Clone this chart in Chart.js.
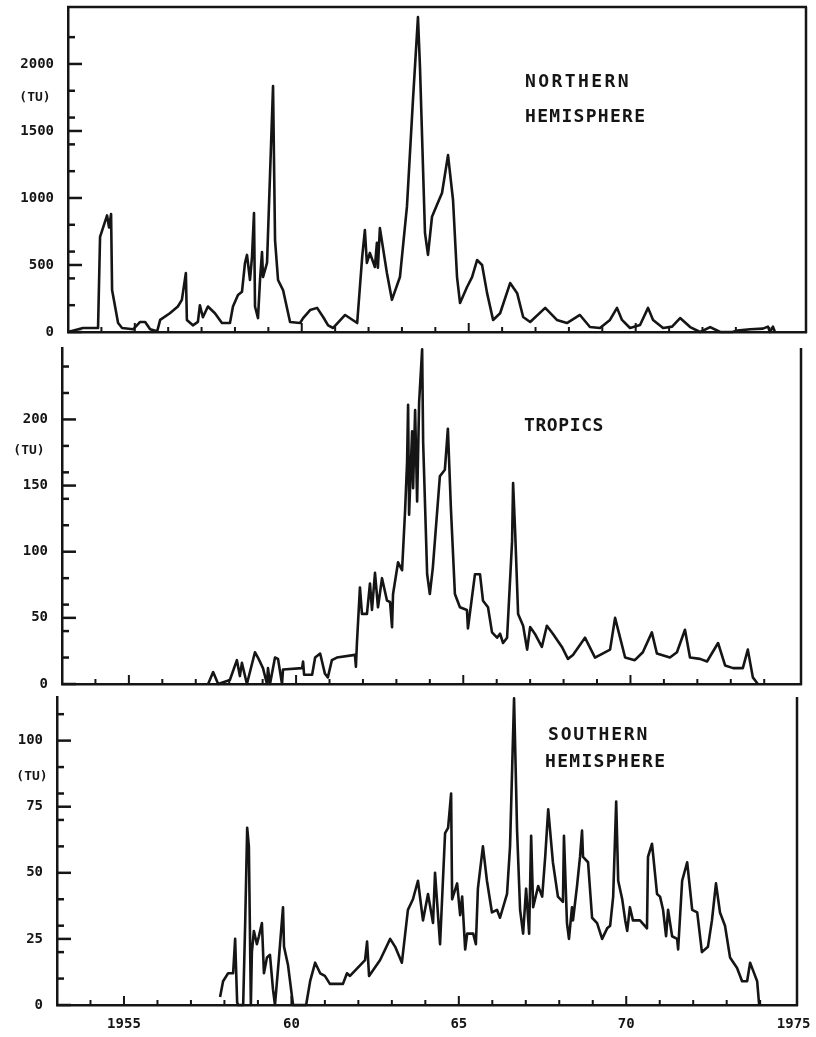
<!DOCTYPE html>
<html>
<head>
<meta charset="utf-8">
<script src="https://cdn.jsdelivr.net/npm/chart.js@4"></script>
<style>
  html, body { margin: 0; padding: 0; background: #fff; }
  #page { position: relative; width: 816px; height: 1037px; overflow: hidden; }
  canvas { position: absolute; left: 0; }
</style>
</head>
<body>
<div id="page">
  <canvas id="north" width="816" height="340" style="top:0px"></canvas>
  <canvas id="tropics" width="816" height="350" style="top:340px"></canvas>
  <canvas id="south" width="816" height="347" style="top:690px"></canvas>
</div>
<script>
// tritium in precipitation (TU), by latitude band, 1953-1974
const northYears = [
  1953.00, 1953.45, 1953.90, 1953.96, 1954.17, 1954.23, 1954.29, 1954.32, 1954.50, 1954.62,
  1954.95, 1955.16, 1955.31, 1955.46, 1955.67, 1955.76, 1956.05, 1956.29, 1956.41, 1956.53,
  1956.56, 1956.74, 1956.89, 1956.95, 1957.04, 1957.19, 1957.40, 1957.61, 1957.85, 1957.94,
  1958.09, 1958.21, 1958.30, 1958.36, 1958.45, 1958.51, 1958.57, 1958.60, 1958.69, 1958.75,
  1958.81, 1958.84, 1958.96, 1959.14, 1959.20, 1959.29, 1959.44, 1959.65, 1959.95, 1960.04,
  1960.25, 1960.46, 1960.64, 1960.79, 1960.94, 1961.30, 1961.66, 1961.81, 1961.89, 1961.95,
  1962.04, 1962.19, 1962.25, 1962.28, 1962.34, 1962.55, 1962.70, 1962.94, 1963.15, 1963.33,
  1963.48, 1963.54, 1963.69, 1963.78, 1963.90, 1964.05, 1964.20, 1964.38, 1964.53, 1964.65,
  1964.74, 1964.95, 1965.10, 1965.25, 1965.40, 1965.55, 1965.73, 1965.94, 1966.24, 1966.45,
  1966.63, 1966.84, 1967.29, 1967.64, 1967.94, 1968.33, 1968.63, 1968.93, 1969.23, 1969.44,
  1969.59, 1969.83, 1970.13, 1970.37, 1970.52, 1970.82, 1971.09, 1971.33, 1971.63, 1971.93,
  1972.23, 1972.53, 1972.89, 1973.04, 1973.43, 1973.81, 1973.96, 1974.02, 1974.11, 1974.17
];
const northTU = [
  0, 30, 30, 710, 870, 780, 880, 313, 67, 30,
  20, 75, 75, 20, 5, 90, 140, 190, 240, 440,
  90, 50, 75, 200, 110, 190, 140, 67, 67, 190,
  276, 300, 515, 575, 388, 560, 888, 190, 104, 388,
  597, 410, 515, 1836, 686, 388, 313, 75, 67, 104,
  164, 180, 112, 50, 30, 127, 67, 560, 760, 515,
  590, 485, 665, 480, 775, 440, 240, 410, 935, 1730,
  2350, 1980, 740, 575, 860, 950, 1037, 1320, 985, 410,
  216, 336, 410, 537, 500, 290, 90, 140, 365, 290,
  112, 75, 180, 90, 67, 127, 37, 30, 90, 180,
  90, 30, 52, 180, 90, 30, 40, 104, 37, 0,
  37, 0, 0, 10, 20, 25, 40, 0, 40, 0
];

const tropicsYears = [
  1957.37, 1957.52, 1957.67, 1958.02, 1958.23, 1958.32, 1958.38, 1958.53, 1958.77, 1958.86,
  1959.01, 1959.13, 1959.16, 1959.22, 1959.37, 1959.46, 1959.58, 1959.61, 1960.18, 1960.21,
  1960.24, 1960.48, 1960.57, 1960.72, 1960.86, 1960.95, 1961.07, 1961.22, 1961.76, 1961.79,
  1961.82, 1961.91, 1961.97, 1962.12, 1962.21, 1962.27, 1962.36, 1962.45, 1962.57, 1962.72,
  1962.81, 1962.87, 1962.90, 1963.05, 1963.17, 1963.26, 1963.32, 1963.35, 1963.38, 1963.47,
  1963.50, 1963.56, 1963.62, 1963.68, 1963.77, 1963.80, 1963.92, 1964.00, 1964.09, 1964.30,
  1964.45, 1964.54, 1964.63, 1964.75, 1964.90, 1965.11, 1965.14, 1965.35, 1965.50, 1965.59,
  1965.74, 1965.86, 1966.01, 1966.10, 1966.19, 1966.31, 1966.46, 1966.49, 1966.55, 1966.64,
  1966.79, 1966.91, 1967.00, 1967.14, 1967.35, 1967.50, 1967.68, 1967.95, 1968.13, 1968.28,
  1968.64, 1968.94, 1969.39, 1969.54, 1969.84, 1970.13, 1970.37, 1970.64, 1970.79, 1971.18,
  1971.39, 1971.63, 1971.78, 1972.08, 1972.29, 1972.62, 1972.83, 1973.07, 1973.36, 1973.51,
  1973.66, 1973.81
];
const tropicsTU = [
  0, 9, 0, 3, 18, 6, 16, 0, 24, 20,
  12, 0, 12, 0, 20, 19, 0, 11, 12, 17,
  7, 7, 20, 23, 8, 5, 18, 20, 22, 13,
  31, 73, 53, 53, 76, 56, 84, 58, 80, 63,
  62, 43, 68, 92, 86, 131, 168, 211, 128, 191,
  148, 207, 138, 213, 253, 183, 83, 68, 88, 157,
  162, 193, 133, 68, 58, 56, 42, 83, 83, 63,
  58, 39, 35, 38, 31, 35, 108, 152, 116, 53,
  44, 26, 43, 38, 28, 44, 38, 28, 19, 22,
  35, 20, 26, 50, 20, 18, 24, 39, 23, 20,
  24, 41, 20, 19, 17, 31, 14, 12, 12, 26,
  5, 0
];

const southYears = [
  1957.87, 1957.96, 1958.11, 1958.26, 1958.32, 1958.38, 1958.41, 1958.56, 1958.62, 1958.68,
  1958.73, 1958.79, 1958.82, 1958.88, 1958.97, 1959.03, 1959.12, 1959.18, 1959.27, 1959.36,
  1959.45, 1959.51, 1959.63, 1959.75, 1959.78, 1959.90, 1960.02, 1960.05, 1960.44, 1960.56,
  1960.71, 1960.86, 1961.00, 1961.15, 1961.54, 1961.66, 1961.75, 1961.90, 1962.20, 1962.26,
  1962.32, 1962.65, 1962.95, 1963.10, 1963.30, 1963.48, 1963.63, 1963.78, 1963.93, 1964.08,
  1964.23, 1964.29, 1964.44, 1964.59, 1964.68, 1964.77, 1964.80, 1964.95, 1965.04, 1965.10,
  1965.19, 1965.25, 1965.43, 1965.51, 1965.57, 1965.72, 1965.84, 1965.99, 1966.14, 1966.23,
  1966.44, 1966.53, 1966.65, 1966.74, 1966.83, 1966.92, 1967.01, 1967.10, 1967.16, 1967.22,
  1967.37, 1967.49, 1967.58, 1967.67, 1967.81, 1967.96, 1968.11, 1968.14, 1968.23, 1968.29,
  1968.38, 1968.41, 1968.53, 1968.62, 1968.68, 1968.71, 1968.86, 1968.98, 1969.13, 1969.28,
  1969.43, 1969.52, 1969.61, 1969.70, 1969.76, 1969.88, 1969.97, 1970.03, 1970.11, 1970.20,
  1970.41, 1970.62, 1970.65, 1970.77, 1970.92, 1971.01, 1971.10, 1971.19, 1971.25, 1971.37,
  1971.52, 1971.55, 1971.67, 1971.82, 1971.97, 1972.12, 1972.26, 1972.44, 1972.56, 1972.68,
  1972.80, 1972.95, 1973.10, 1973.31, 1973.46, 1973.61, 1973.70, 1973.79, 1973.91, 1973.97
];
const southTU = [
  3, 9, 12, 12, 25, 1, 0, 0, 31, 67,
  60, 0, 20, 28, 23, 26, 31, 12, 18, 19,
  6, 0, 18, 37, 22, 15, 3, 0, 0, 9,
  16, 12, 11, 8, 8, 12, 11, 13, 17, 24,
  11, 17, 25, 22, 16, 36, 40, 47, 32, 42,
  31, 50, 23, 65, 67, 80, 40, 46, 34, 41,
  21, 27, 27, 23, 44, 60, 47, 35, 36, 33,
  42, 60, 116, 66, 36, 27, 44, 27, 64, 37,
  45, 41, 56, 74, 54, 41, 39, 64, 31, 25,
  37, 32, 45, 56, 66, 56, 54, 33, 31, 25,
  29, 30, 41, 77, 47, 40, 32, 28, 37, 32,
  32, 29, 56, 61, 42, 41, 36, 26, 36, 26,
  25, 21, 47, 54, 36, 35, 20, 22, 32, 46,
  35, 30, 18, 14, 9, 9, 16, 13, 9, 0
];

// axis ticks: every value gets an inward mark, labelled ones get a long mark
const northTicks = [0, 200, 400, 500, 600, 800, 1000, 1200, 1400, 1500, 1600, 1800, 2000, 2200];
const northLabels = [0, 500, 1000, 1500, 2000];
const tropicsTicks = [0, 20, 40, 50, 60, 80, 100, 120, 140, 150, 160, 180, 200, 220, 240];
const tropicsLabels = [0, 50, 100, 150, 200];
const southTicks = [0, 10, 20, 25, 30, 40, 50, 60, 70, 75, 80, 90, 100, 110];
const southLabels = [0, 25, 50, 75, 100];
const yearTicks = [1955, 1960, 1965, 1970, 1975];
const yearLabels = ['1955', '60', '65', '70', '1975'];

const INK = '#151515';
const LABEL_FONT = { family: '"DejaVu Sans Mono", monospace', size: 14, weight: 'bold' };

function line(ctx, x1, y1, x2, y2) {
  ctx.beginPath();
  ctx.moveTo(x1, y1);
  ctx.lineTo(x2, y2);
  ctx.stroke();
}

// scales must not reserve room for their labels, the plot area is fixed
function noPadding(s) {
  s.paddingTop = 0;
  s.paddingBottom = 0;
  s.paddingLeft = 0;
  s.paddingRight = 0;
}

const framePlugin = {
  id: 'frame',
  afterDraw(chart, args, opts) {
    const { ctx, chartArea: a } = chart;
    const xs = chart.scales.x;
    const ys = chart.scales.y;
    ctx.save();
    ctx.strokeStyle = INK;
    ctx.lineWidth = 2.5;
    ctx.lineCap = 'butt';
    opts.yTicks.forEach((v) => {
      const py = ys.getPixelForValue(v);
      line(ctx, a.left, py, a.left + (opts.yLabels.includes(v) ? 14 : 7), py);
    });
    ctx.lineWidth = 2;
    for (let yr = 1954; yr <= 1974; yr++) {
      const px = xs.getPixelForValue(yr);
      line(ctx, px, a.bottom, px, a.bottom - (yr % 5 === 0 ? 9 : 5));
    }
    ctx.lineWidth = 2.5;
    line(ctx, a.right, a.top, a.right, a.bottom + 1);
    if (opts.topBorder) line(ctx, a.left - 1, a.top, a.right + 1, a.top);

    ctx.fillStyle = INK;
    ctx.textBaseline = 'alphabetic';
    ctx.font = 'bold 18px "DejaVu Sans Mono", monospace';
    ctx.textAlign = 'left';
    opts.title.forEach((t) => {
      ctx.letterSpacing = t.spacing;
      ctx.fillText(t.text, t.x, t.y);
    });
    ctx.letterSpacing = '0px';
    ctx.font = 'bold 13px "DejaVu Sans Mono", monospace';
    ctx.textAlign = 'center';
    ctx.textBaseline = 'middle';
    ctx.fillText('(TU)', opts.unit.x, opts.unit.y);
    ctx.restore();
  },
};

function makePanel(id, years, values, p) {
  const points = years.map((yr, i) => ({ x: yr, y: values[i] }));
  return new Chart(document.getElementById(id), {
    type: 'line',
    data: {
      datasets: [{
        data: points,
        borderColor: INK,
        borderWidth: 2.6,
        borderJoinStyle: 'round',
        pointRadius: 0,
        tension: 0,
        fill: false,
        clip: false,
      }],
    },
    options: {
      responsive: false,
      animation: false,
      events: [],
      layout: { padding: { top: p.padTop, right: p.padRight, bottom: 0, left: 0 } },
      plugins: {
        legend: { display: false },
        tooltip: { enabled: false },
        frame: { yTicks: p.yTicks, yLabels: p.yLabels, title: p.title, unit: p.unit, topBorder: p.topBorder },
      },
      scales: {
        x: {
          type: 'linear',
          min: 1953,
          max: 1975.1,
          afterFit: (s) => { s.height = p.xHeight; noPadding(s); },
          afterBuildTicks: (s) => { s.ticks = yearTicks.map((v) => ({ value: v })); },
          ticks: {
            display: p.showYears,
            autoSkip: false,
            maxRotation: 0,
            padding: 11,
            color: INK,
            font: LABEL_FONT,
            callback: (v) => yearLabels[yearTicks.indexOf(v)] || '',
          },
          grid: { display: false, drawTicks: false },
          border: { display: true, width: 2.5, color: INK },
        },
        y: {
          min: 0,
          max: p.max,
          afterFit: (s) => { s.width = p.left; noPadding(s); },
          afterBuildTicks: (s) => { s.ticks = p.yTicks.map((v) => ({ value: v })); },
          ticks: {
            autoSkip: false,
            padding: 14,
            color: INK,
            font: LABEL_FONT,
            callback: (v) => (p.yLabels.includes(v) ? String(v) : ''),
          },
          grid: { display: false, drawTicks: false },
          border: { display: true, width: 2.5, color: INK },
        },
      },
    },
    plugins: [framePlugin],
  });
}

makePanel('north', northYears, northTU, {
  max: 2425, left: 68, padTop: 7, padRight: 10, xHeight: 8, showYears: false, topBorder: true,
  yTicks: northTicks, yLabels: northLabels,
  title: [
    { text: 'NORTHERN', x: 525, y: 87, spacing: '2.4px' },
    { text: 'HEMISPHERE', x: 525, y: 122, spacing: '1.3px' },
  ],
  unit: { x: 35, y: 98 },
});

makePanel('tropics', tropicsYears, tropicsTU, {
  max: 254, left: 62, padTop: 8, padRight: 15, xHeight: 6, showYears: false, topBorder: false,
  yTicks: tropicsTicks, yLabels: tropicsLabels,
  title: [{ text: 'TROPICS', x: 524, y: 91, spacing: '0.6px' }],
  unit: { x: 29, y: 111 },
});

makePanel('south', southYears, southTU, {
  max: 116.5, left: 57, padTop: 7, padRight: 19, xHeight: 32, showYears: true, topBorder: false,
  yTicks: southTicks, yLabels: southLabels,
  title: [
    { text: 'SOUTHERN', x: 548, y: 50, spacing: '1.8px' },
    { text: 'HEMISPHERE', x: 545, y: 77, spacing: '1.3px' },
  ],
  unit: { x: 32, y: 87 },
});
</script>
</body>
</html>
